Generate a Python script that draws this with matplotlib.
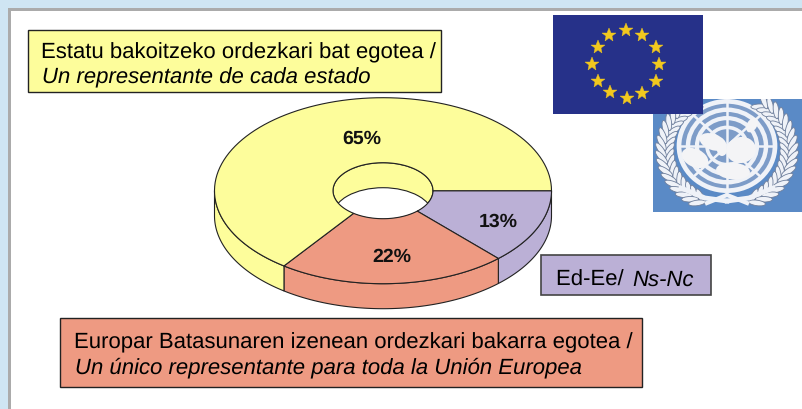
import numpy as np
import matplotlib
matplotlib.use('Agg')
import matplotlib.pyplot as plt
from matplotlib.patches import Polygon, Rectangle, Ellipse

labels = ['13%', '22%', '65%']
shares = [13, 22, 65]
slice_colors = ['#BBB0D6', '#EE9A82', '#FDFD9B']
label_pos = [(498, 221), (392, 256), (362, 138)]

top_text = ['Estatu bakoitzeko ordezkari bat egotea /', 'Un representante de cada estado']
bottom_text = ['Europar Batasunaren izenean ordezkari bakarra egotea /',
               'Un único representante para toda la Unión Europea']
side_text = ['Ed-Ee/ ', 'Ns-Nc']

plt.rcParams['font.family'] = ['Liberation Sans', 'DejaVu Sans']
plt.rcParams['text.hinting'] = 'no_hinting'
EDGE = '#222222'

fig = plt.figure(figsize=(8.03, 4.10), dpi=100)
ax = fig.add_axes([0, 0, 1, 1])
ax.set_xlim(0, 803)
ax.set_ylim(409, -1)
ax.axis('off')

# page background
ax.add_patch(Rectangle((0, -1), 803, 411, fc='#CFE5F3', ec='none', zorder=0))
ax.add_patch(Rectangle((8, 8), 800, 410, fc='#ABABAB', ec='none', zorder=0.1))
ax.add_patch(Rectangle((11, 11), 800, 410, fc='white', ec='none', zorder=0.2))

# 3d doughnut
cx, cy, rx, ry, depth = 383, 190.7, 168.5, 93, 25
hx, hy = 50, 28


def arc(a0, a1, sx, sy, dy=0):
    t = np.radians(np.linspace(a0, a1, 100))
    return np.column_stack([cx + sx * np.cos(t), cy + sy * np.sin(t) + dy])


# hole, back wall then see-through part
ax.add_patch(Ellipse((cx, cy), 2 * hx, 2 * hy, fc=slice_colors[2], ec=EDGE, lw=0.8, zorder=2))
see = Ellipse((cx, cy + depth), 2 * hx, 2 * hy, fc='white', ec=EDGE, lw=0.8, zorder=2.1)
ax.add_patch(see)
see.set_clip_path(Ellipse((cx, cy), 2 * hx, 2 * hy, transform=ax.transData))

start = 0
for share, col in zip(shares, slice_colors):
    end = start + share * 3.6
    # outer wall, front half only
    w0, w1 = start, min(end, 180)
    if w0 < 180:
        wall = np.vstack([arc(w0, w1, rx, ry), arc(w1, w0, rx, ry, depth)])
        ax.add_patch(Polygon(wall, closed=True, fc=col, ec=EDGE, lw=0.8, zorder=3))
    top = np.vstack([arc(start, end, rx, ry), arc(end, start, hx, hy)])
    ax.add_patch(Polygon(top, closed=True, fc=col, ec=EDGE, lw=0.8, zorder=4))
    start = end

for lab, (x, y) in zip(labels, label_pos):
    ax.text(x, y, lab, fontsize=14, fontweight='bold', ha='center', va='center', color='#111111', zorder=6)

# text boxes
ax.add_patch(Rectangle((28, 30), 413, 62, fc=slice_colors[2], ec=EDGE, lw=1, zorder=5))
ax.text(41, 52, top_text[0], fontsize=15.9, va='center', zorder=6)
ax.text(42, 77, top_text[1], fontsize=15.9, style='italic', va='center', zorder=6)

ax.add_patch(Rectangle((60, 318), 582, 69, fc=slice_colors[1], ec=EDGE, lw=1, zorder=5))
ax.text(74, 342, bottom_text[0], fontsize=15.9, va='center', zorder=6)
ax.text(75, 367, bottom_text[1], fontsize=15.9, style='italic', va='center', zorder=6)

ax.add_patch(Rectangle((541, 255), 170, 40, fc=slice_colors[0], ec='#444444', lw=1.2, zorder=5))
ax.text(556, 285, side_text[0], fontsize=15.9, va='baseline', zorder=6)
ax.text(632, 285, side_text[1], fontsize=15.9, style='italic', va='baseline', zorder=6)

# UN emblem
ux, uy = 727, 146
WHITE = '#EFF2F8'
un_bg = Rectangle((653, 99), 150, 113, fc='#5A8AC6', ec='none', zorder=7)
ax.add_patch(un_bg)
ax.add_patch(Ellipse((ux, uy), 96, 90, fc='#7D9CC8', ec='none', zorder=7.5))
for r, lw in [(48, 3.4), (39, 3.2), (30, 3), (20, 2.6)]:
    ax.add_patch(Ellipse((ux, uy), 2 * r, 2 * r * 0.93, fc='none', ec=WHITE, lw=lw, zorder=8))
for a in [0, 45, 90, 135]:
    dx, dy = 48 * np.cos(np.radians(a)), 44 * np.sin(np.radians(a))
    ax.plot([ux - dx, ux + dx], [uy - dy, uy + dy], color=WHITE, lw=1.8, zorder=8)
# land masses
for (x, y, w, h, a) in [(741, 150, 30, 26, -10), (713, 142, 28, 16, 20), (695, 158, 28, 18, 25),
                        (733, 171, 34, 17, 5), (752, 125, 10, 16, 30), (722, 150, 10, 12, 0)]:
    ax.add_patch(Ellipse((x, y), w, h, angle=a, fc='#F4F4F6', ec='none', zorder=9))
# laurel wreaths
for side in [-1, 1]:
    for r, tilt in [(58, -35), (66, 35)]:
        for deg in np.arange(-56, 68, 7):
            t = np.radians(deg)
            x = ux + side * r * np.cos(t)
            y = uy + 4 + r * 0.9 * np.sin(t)
            ang = side * (deg + 90 + tilt)
            leaf = Ellipse((x, y), 17, 5.5, angle=ang, fc=WHITE, ec='#6F7F9C', lw=0.6, zorder=8)
            ax.add_patch(leaf)
            leaf.set_clip_path(un_bg)
    ax.plot([ux, ux + side * 22, ux + side * 46], [201, 198, 188], color=WHITE, lw=3.5, zorder=8)
    ax.plot([ux, ux + side * 20], [195, 203], color=WHITE, lw=3, zorder=8)

# EU flag
star_x = [626, 642, 656, 659, 656, 642, 627, 610, 598, 592, 598, 609]
star_y = [30, 35, 47, 64, 81, 93, 98, 92, 81, 64, 47, 35]
ax.add_patch(Rectangle((553, 15), 150, 99, fc='#263189', ec='none', zorder=10))
ax.plot(star_x, star_y, ls='none', marker='*', ms=10, mfc='#F2C81E', mec='#F2C81E', mew=0.3, zorder=11)

fig.savefig('out.png', dpi=100)
